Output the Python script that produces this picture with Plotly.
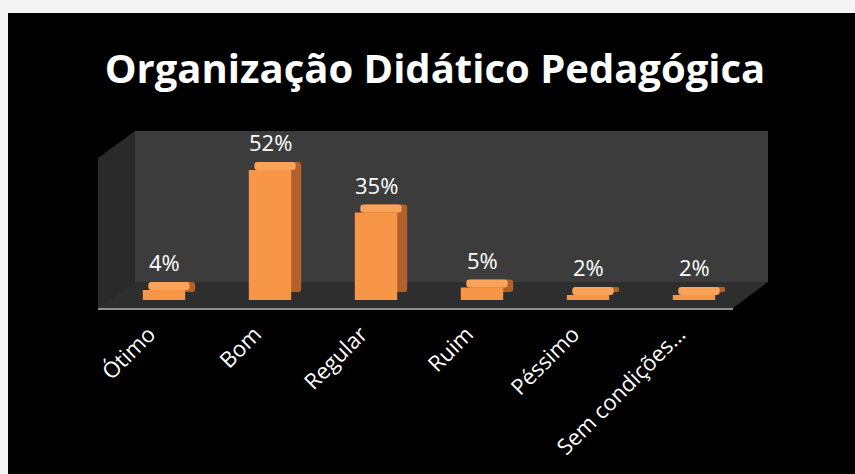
import plotly.graph_objects as go

categories = ["Ótimo", "Bom", "Regular", "Ruim", "Péssimo", "Sem condições…"]
values = [4, 52, 35, 5, 2, 2]
labels = [f"{v}%" for v in values]

W, H = 855, 474
L, R, T, B = 111, 108, 131, 174
PW, PH = W - L - R, H - T - B
YMAX = PH / 2.5
DEPTH = 3.2          # bar depth in value units (~8 px)
DX = 10 / 106        # horizontal depth shift in category units
BW = 0.40

def px(x):
    return (x - L) / PW

def py(y):
    return (H - B - y) / PH

def path(points):
    s = "M " + " L ".join(f"{px(x)},{py(y)}" for x, y in points) + " Z"
    return s

ORANGE = "#F79646"
SIDE = "#B0622A"
TOP = "#F9A25A"

fig = go.Figure()
# side / back face
fig.add_trace(go.Bar(x=categories, y=values, base=[DEPTH] * len(values),
                     width=BW, offset=-BW / 2 + DX,
                     marker=dict(color=SIDE, line=dict(width=0), cornerradius=3),
                     hoverinfo="skip", showlegend=False))
# top face
fig.add_trace(go.Bar(x=categories, y=[DEPTH] * len(values), base=values,
                     width=BW - 0.01, offset=-BW / 2 + DX * 0.55,
                     marker=dict(color=TOP, line=dict(width=0), cornerradius=3),
                     hoverinfo="skip", showlegend=False))
# front face
fig.add_trace(go.Bar(x=categories, y=values, width=BW, offset=-BW / 2,
                     marker=dict(color=ORANGE, line=dict(width=0)),
                     showlegend=False))

for c, v, t in zip(categories, values, labels):
    fig.add_annotation(x=c, y=v, text=t, showarrow=False, yshift=28,
                       yanchor="middle",
                       font=dict(family="Open Sans", size=22, color="white"))

shapes = [
    dict(type="rect", xref="paper", yref="paper", x0=px(8), x1=px(W + 2),
         y0=py(H + 2), y1=py(13), fillcolor="black", line=dict(width=0), layer="below"),
    dict(type="rect", xref="paper", yref="paper", x0=px(135), x1=px(768),
         y0=py(282), y1=py(131), fillcolor="#3C3C3C", line=dict(width=0), layer="below"),
    dict(type="path", xref="paper", yref="paper",
         path=path([(98, 158), (135, 131), (135, 282), (98, 309)]),
         fillcolor="#2A2A2A", line=dict(width=0), layer="below"),
    dict(type="path", xref="paper", yref="paper",
         path=path([(98, 308), (135, 282), (768, 282), (733, 308)]),
         fillcolor="#2E2E2E", line=dict(width=0), layer="below"),
    dict(type="line", xref="paper", yref="paper", x0=px(98), x1=px(733),
         y0=py(309), y1=py(309), line=dict(color="#8F8F8F", width=2), layer="below"),
]

fig.update_layout(
    width=W, height=H,
    margin=dict(l=L, r=R, t=T, b=B, autoexpand=False),
    paper_bgcolor="#F5F4F5",
    plot_bgcolor="rgba(0,0,0,0)",
    barmode="overlay",
    shapes=shapes,
    title=dict(text="<b>Organização Didático Pedagógica</b>", x=435 / W, xanchor="center",
               y=1 - 69 / H, yanchor="middle", automargin=False,
               font=dict(family="Open Sans", size=40, color="white")),
    xaxis=dict(range=[-0.5, 5.5], showgrid=False, zeroline=False, showline=False,
               automargin=False,
               ticks="", tickangle=-45, ticklabelstandoff=16, ticklabelshift=-15,
               tickfont=dict(family="Open Sans", size=22, color="white"), fixedrange=True),
    yaxis=dict(range=[0, YMAX], visible=False, fixedrange=True, automargin=False),
    font=dict(family="Open Sans"),
)

fig.write_html("out.html", config={"displayModeBar": False},
               post_script="document.body.style.margin='0';document.body.style.overflow='hidden';")
